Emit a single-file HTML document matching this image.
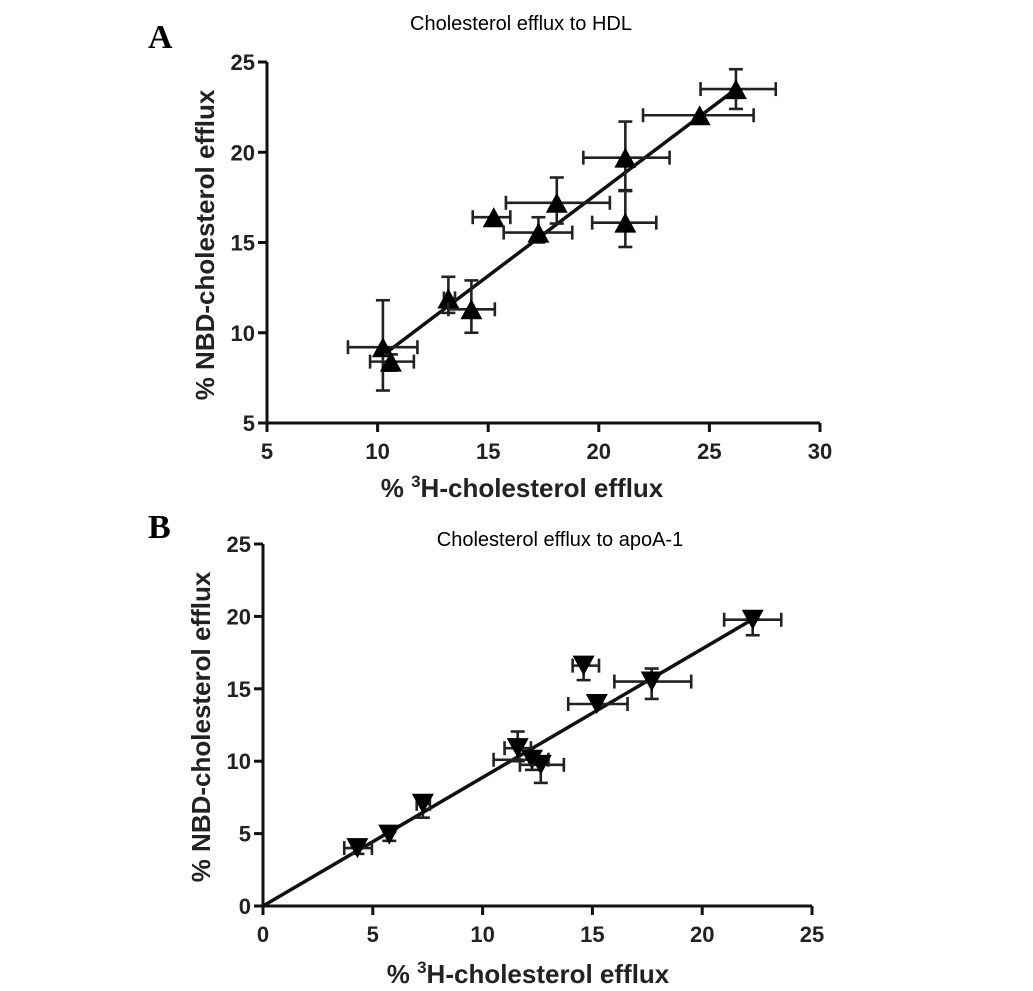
<!DOCTYPE html>
<html><head><meta charset="utf-8"><style>
html,body{margin:0;padding:0;background:#fff;}
svg{display:block;font-family:"Liberation Sans",Arial,sans-serif;}
</style></head><body>
<svg id="chart" width="1033" height="991" viewBox="0 0 1033 991">
<text x="148" y="48" font-family="Liberation Serif,serif" font-weight="bold" font-size="34">A</text>
<text x="148" y="538" font-family="Liberation Serif,serif" font-weight="bold" font-size="34">B</text>
<text x="521" y="30" text-anchor="middle" font-size="20">Cholesterol efflux to HDL</text>
<text x="560" y="546" text-anchor="middle" font-size="20">Cholesterol efflux to apoA-1</text>
<text x="522" y="497" text-anchor="middle" font-size="26" font-weight="bold" fill="#222">% <tspan dy="-10" font-size="17">3</tspan><tspan dy="10">H-cholesterol efflux</tspan></text>
<text x="528" y="983" text-anchor="middle" font-size="26" font-weight="bold" fill="#222">% <tspan dy="-10" font-size="17">3</tspan><tspan dy="10">H-cholesterol efflux</tspan></text>
<text transform="translate(214,245) rotate(-90)" text-anchor="middle" font-size="26" font-weight="bold" fill="#222">% NBD-cholesterol efflux</text>
<text transform="translate(210,727) rotate(-90)" text-anchor="middle" font-size="26" font-weight="bold" fill="#222">% NBD-cholesterol efflux</text>
<g id="pa"></g><g id="pb"></g>
</svg>
<script>
// Panel A data
const aX = [26.2, 24.56, 21.2, 18.1, 15.25, 17.27, 21.2, 13.2, 14.24, 10.24, 10.6];
const aY = [23.5, 22.05, 19.7, 17.2, 16.4, 15.55, 16.1, 11.9, 11.3, 9.2, 8.4];
const aXLo = [24.6, 22.0, 19.3, 15.8, 14.3, 15.7, 19.7, 13.0, 13.2, 8.66, 9.66];
const aXHi = [28.0, 27.0, 23.2, 20.5, 16.0, 18.8, 22.6, 13.5, 15.3, 11.8, 11.64];
const aYLo = [22.4, 22.05, 17.9, 16.05, 16.4, 15.0, 14.75, 11.1, 10.0, 6.8, 7.9];
const aYHi = [24.6, 22.05, 21.7, 18.6, 16.4, 16.4, 17.85, 13.1, 12.9, 11.8, 8.8];
const aLineX = [10.4, 26.2];
const aLineY = [8.9, 23.5];
const aXTicks = [5, 10, 15, 20, 25, 30];
const aYTicks = [5, 10, 15, 20, 25];
// Panel B data
const bX = [22.3, 17.7, 14.6, 15.2, 11.6, 12.25, 12.65, 7.28, 5.75, 4.3];
const bY = [19.77, 15.5, 16.6, 13.95, 10.9, 10.1, 9.75, 7.06, 4.93, 4.0];
const bXLo = [21.0, 16.0, 14.1, 13.9, 11.0, 10.5, 11.7, 7.0, 5.75, 3.7];
const bXHi = [23.6, 19.5, 15.3, 16.6, 12.2, 13.0, 13.7, 7.6, 5.75, 4.96];
const bYLo = [18.7, 14.3, 15.6, 13.95, 10.0, 9.4, 8.5, 6.1, 4.5, 3.6];
const bYHi = [19.8, 16.4, 16.9, 13.95, 12.05, 10.6, 10.3, 7.6, 5.1, 4.2];
const bLineX = [0, 22.3];
const bLineY = [0, 19.8];
const bXTicks = [0, 5, 10, 15, 20, 25];
const bYTicks = [0, 5, 10, 15, 20, 25];

const NS = "http://www.w3.org/2000/svg";
function mk(parent, tag, attrs) {
  const e = document.createElementNS(NS, tag);
  for (const k in attrs) e.setAttribute(k, attrs[k]);
  parent.appendChild(e);
  return e;
}
function panel(g, cfg) {
  const sx = v => cfg.x0 + (v - cfg.xmin) / (cfg.xmax - cfg.xmin) * (cfg.x1 - cfg.x0);
  const sy = v => cfg.y0 - (v - cfg.ymin) / (cfg.ymax - cfg.ymin) * (cfg.y0 - cfg.y1);
  let e;
  e = mk(g, "line", {x1: cfg.x0, y1: cfg.y0, x2: sx(cfg.xmax), y2: cfg.y0, stroke: "#111", "stroke-width": 3});
  
  
  e = mk(g, "line", {x1: cfg.x0, y1: cfg.y0 + 1, x2: cfg.x0, y2: sy(cfg.ymax), stroke: "#111", "stroke-width": 3});
  
  
  cfg.xt.forEach(t => {
    mk(g, "line", {x1: sx(t), y1: cfg.y0, x2: sx(t), y2: cfg.y0 + 9, stroke: "#111", "stroke-width": 3});
    const tx = mk(g, "text", {x: sx(t), y: cfg.y0 + 36, "text-anchor": "middle", "font-size": 22, "font-weight": "bold", fill: "#222"});
    tx.textContent = t;
    
    
  });
  cfg.yt.forEach(t => {
    mk(g, "line", {x1: cfg.x0 - 9, y1: sy(t), x2: cfg.x0, y2: sy(t), stroke: "#111", "stroke-width": 3});
    const tx = mk(g, "text", {x: cfg.x0 - 12, y: sy(t) + 8, "text-anchor": "end", "font-size": 22, "font-weight": "bold", fill: "#222"});
    tx.textContent = t;
    
    
  });
  e = mk(g, "line", {x1: sx(cfg.lx[0]), y1: sy(cfg.ly[0]), x2: sx(cfg.lx[1]), y2: sy(cfg.ly[1]), stroke: "#111", "stroke-width": 3.5});
  
  
  const c = 7;
  cfg.X.forEach((x, i) => {
    const grp = mk(g, "g", {stroke: "#222", "stroke-width": 2.6, fill: "none"});
    
    
    const px = sx(x), py = sy(cfg.Y[i]);
    const xl = sx(cfg.XL[i]), xh = sx(cfg.XH[i]), yl = sy(cfg.YL[i]), yh = sy(cfg.YH[i]);
    if (xh - xl > 3) {
      mk(grp, "line", {x1: xl, y1: py, x2: xh, y2: py});
      mk(grp, "line", {x1: xl, y1: py - c, x2: xl, y2: py + c});
      mk(grp, "line", {x1: xh, y1: py - c, x2: xh, y2: py + c});
    }
    if (yl - yh > 3) {
      mk(grp, "line", {x1: px, y1: yl, x2: px, y2: yh});
      mk(grp, "line", {x1: px - c, y1: yl, x2: px + c, y2: yl});
      mk(grp, "line", {x1: px - c, y1: yh, x2: px + c, y2: yh});
    }
    const s = 11, h = 10;
    const pts = cfg.up
      ? `${px},${py - h} ${px - s},${py + h} ${px + s},${py + h}`
      : `${px},${py + h} ${px - s},${py - h} ${px + s},${py - h}`;
    const m = mk(g, "polygon", {points: pts, fill: "#000"});
    
    
  });
}
panel(document.getElementById("pa"), {p: "panel-a", x0: 267, x1: 820, xmin: 5, xmax: 30, y0: 423, y1: 62, ymin: 5, ymax: 25,
  xt: aXTicks, yt: aYTicks, X: aX, Y: aY, XL: aXLo, XH: aXHi, YL: aYLo, YH: aYHi, lx: aLineX, ly: aLineY, up: true});
panel(document.getElementById("pb"), {p: "panel-b", x0: 263, x1: 812, xmin: 0, xmax: 25, y0: 906, y1: 544, ymin: 0, ymax: 25,
  xt: bXTicks, yt: bYTicks, X: bX, Y: bY, XL: bXLo, XH: bXHi, YL: bYLo, YH: bYHi, lx: bLineX, ly: bLineY, up: false});
</script>
</body></html>
